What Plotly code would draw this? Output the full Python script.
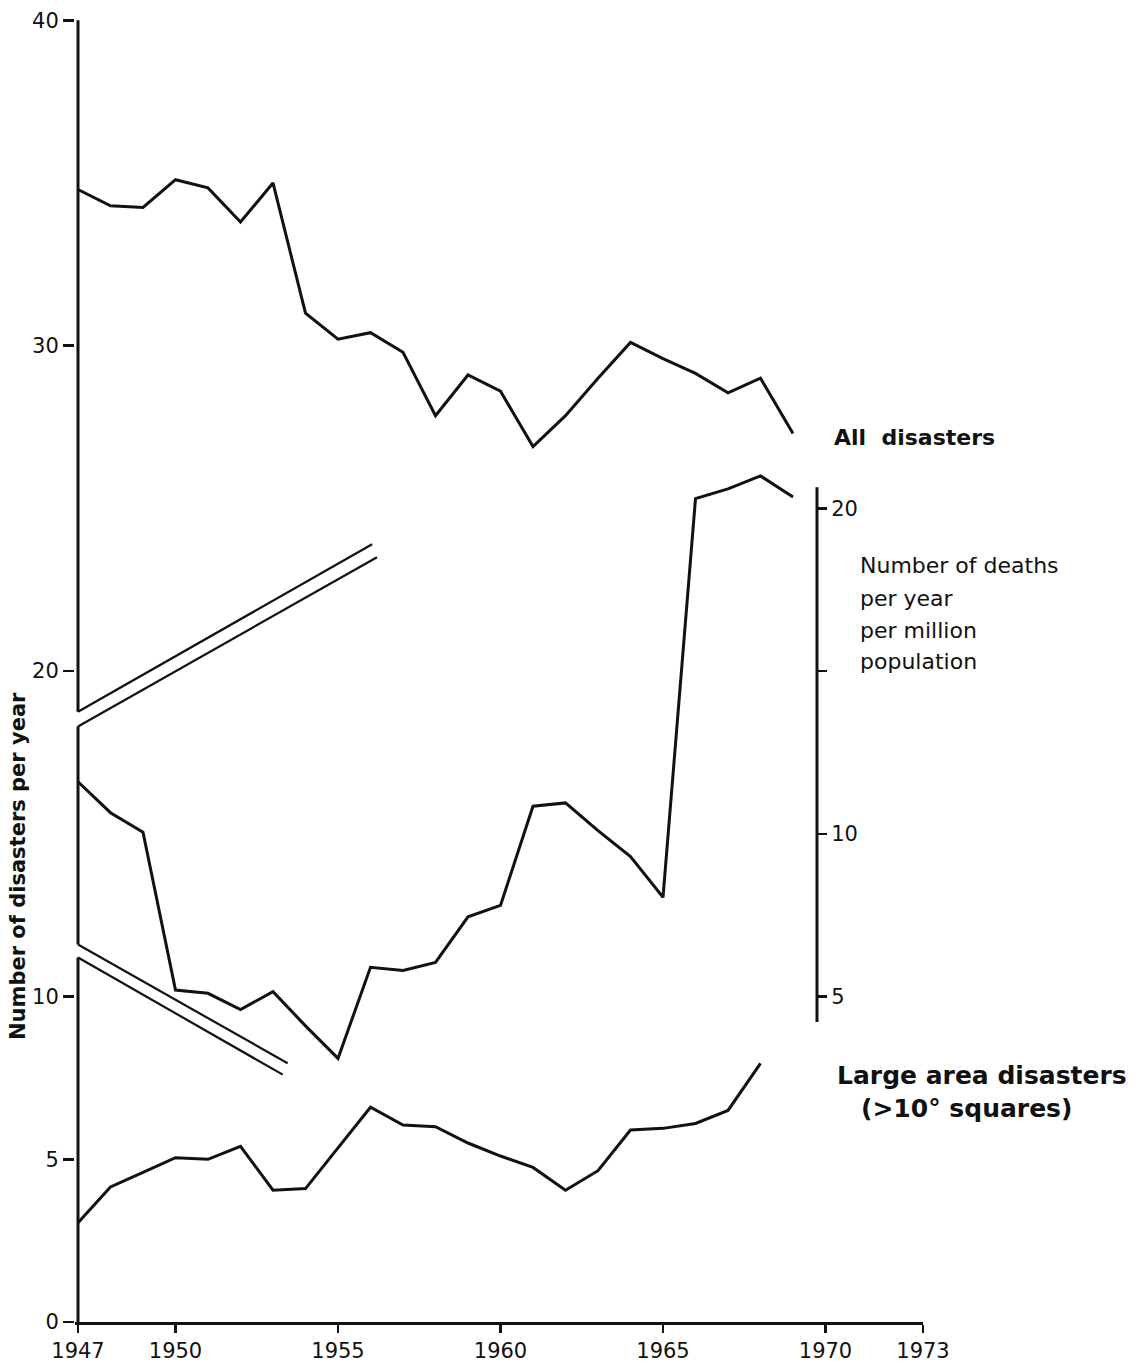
import plotly.graph_objects as go

# ---------------- data ----------------
years = list(range(1947, 1970))
all_disasters = [34.8, 34.3, 34.25, 35.1, 34.85, 33.8, 35.0, 31.0, 30.2, 30.4, 29.8,
                 27.85, 29.1, 28.6, 26.9, 27.85, 29.0, 30.1, 29.6, 29.15, 28.55, 29.0, 27.3]
# deaths per year per million population (right-hand scale)
deaths = [11.6, 10.65, 10.05, 5.2, 5.1, 4.6, 5.15, 4.1, 3.1, 5.9, 5.8, 6.05, 7.45,
          7.8, 10.85, 10.95, 10.1, 9.3, 8.05, 20.3, 20.6, 21.0, 20.35]
large_years = list(range(1947, 1969))
large_area = [3.05, 4.15, 4.6, 5.05, 5.0, 5.4, 4.05, 4.1, 5.35, 6.6, 6.05, 6.0, 5.5,
              5.1, 4.75, 4.05, 4.65, 5.9, 5.95, 6.1, 6.5, 7.95]

# double "leader" lines linking the deaths curve to its scale (year, left-scale value)
leader_x0 = [1947, 1947, 1947, 1947]
leader_y0 = [18.75, 18.3, 11.6, 11.2]
leader_x1 = [1956.05, 1956.2, 1953.45, 1953.3]
leader_y1 = [23.9, 23.5, 7.95, 7.6]

# left axis pieces (broken where the leader lines leave it)
left_axis_pieces = [(0, 11.2), (11.6, 18.3), (18.75, 40)]
# right (deaths) scale extent
right_axis_extent = (4.22, 20.65)

x_ticks = [1947, 1950, 1955, 1960, 1965, 1970, 1973]
y_ticks = [0, 5, 10, 20, 30, 40]
y2_ticks = [5, 10, 15, 20]
y2_ticktext = ["5", "10", "", "20"]

# ---------------- layout geometry ----------------
W, H = 1140, 1368
ML, MR, MT, MB = 75, 217, 17, 46
PW, PH = W - ML - MR, H - MT - MB
X_RANGE = [1947 - 3 / 32.5, 1973]
Y_RANGE = [0, 40.1]
OFFSET = 5  # right scale = left scale - 5


def px(xp):
    return (xp - ML) / PW


def py(yp):
    return (H - MB - yp) / PH


FONT = "DejaVu Sans"
BLACK = "#111111"

fig = go.Figure()

fig.add_trace(go.Scatter(x=years, y=all_disasters, mode="lines",
                         line=dict(color=BLACK, width=3), hoverinfo="skip"))
fig.add_trace(go.Scatter(x=years, y=deaths, mode="lines", yaxis="y2",
                         line=dict(color=BLACK, width=3), hoverinfo="skip"))
fig.add_trace(go.Scatter(x=large_years, y=large_area, mode="lines",
                         line=dict(color=BLACK, width=3), hoverinfo="skip"))

for xa, ya, xb, yb in zip(leader_x0, leader_y0, leader_x1, leader_y1):
    fig.add_trace(go.Scatter(x=[xa, xb], y=[ya, yb], mode="lines",
                             line=dict(color=BLACK, width=2.2), hoverinfo="skip"))

shapes = []
for a, b in left_axis_pieces:
    shapes.append(dict(type="line", xref="x", yref="y", x0=1947, x1=1947, y0=a, y1=b,
                       line=dict(color=BLACK, width=3)))
shapes.append(dict(type="line", xref="paper", yref="y2", x0=px(817), x1=px(817),
                   y0=right_axis_extent[0], y1=right_axis_extent[1],
                   line=dict(color=BLACK, width=3)))
fig.update_layout(shapes=shapes)

ann = []
ann.append(dict(text="<b>All  disasters</b>", x=px(832), y=py(437), xanchor="left",
                yanchor="middle", font=dict(size=22)))
for i, t in enumerate(["Number of deaths", "per year", "per million", "population"]):
    ann.append(dict(text=t, x=px(858), y=py(566 + 32 * i), xanchor="left",
                    yanchor="middle", font=dict(size=22)))
ann.append(dict(text="<b>Large area disasters</b>", x=px(835), y=py(1075), xanchor="left",
                yanchor="middle", font=dict(size=25)))
ann.append(dict(text="<b>(>10° squares)</b>", x=px(966), y=py(1108), xanchor="center",
                yanchor="middle", font=dict(size=25)))
ann.append(dict(text="<b>Number of disasters per year</b>", x=px(18), y=py(866),
                xanchor="center", yanchor="middle", textangle=-90, font=dict(size=21)))
for a in ann:
    a.update(xref="paper", yref="paper", showarrow=False)
    a["font"].update(family=FONT, color=BLACK)
fig.update_layout(annotations=ann)

fig.update_layout(
    width=W, height=H,
    margin=dict(l=ML, r=MR, t=MT, b=MB, pad=0),
    paper_bgcolor="white", plot_bgcolor="white",
    showlegend=False,
    font=dict(family=FONT, color=BLACK, size=21),
    xaxis=dict(range=X_RANGE, tickvals=x_ticks, ticktext=[str(v) for v in x_ticks],
               showgrid=False, zeroline=False, showline=True, linecolor=BLACK,
               linewidth=3, ticks="outside", ticklen=8, tickwidth=2.5, tickcolor=BLACK,
               tickfont=dict(size=21), automargin=False),
    yaxis=dict(range=Y_RANGE, tickvals=y_ticks, showgrid=False, zeroline=False,
               showline=False, ticks="outside", ticklen=11, tickwidth=2.5,
               tickcolor=BLACK, tickfont=dict(size=21), automargin=False),
    yaxis2=dict(range=[Y_RANGE[0] - OFFSET, Y_RANGE[1] - OFFSET], overlaying="y",
                anchor="free", side="right", position=px(817), tickvals=y2_ticks,
                ticktext=y2_ticktext, showgrid=False, zeroline=False, showline=False,
                ticks="outside", ticklen=9, tickwidth=2.5, tickcolor=BLACK,
                tickfont=dict(size=21), automargin=False),
)

fig.write_html(
    "out.html",
    config={"displayModeBar": False, "staticPlot": True},
    post_script="document.body.style.margin='0';document.body.style.overflow='hidden';",
)
